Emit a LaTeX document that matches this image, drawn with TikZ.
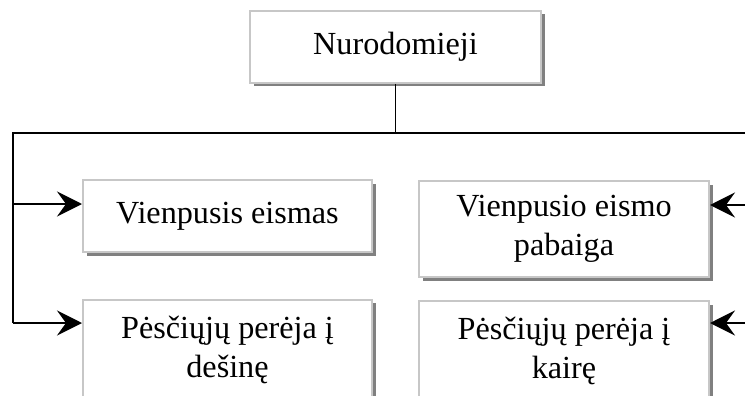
\documentclass[tikz,border=0pt]{standalone}
\usepackage{fontspec}
\setmainfont{Liberation Serif}
\usetikzlibrary{arrows.meta,shadows}
\begin{document}
\begin{tikzpicture}[x=1pt,y=-1pt,
  box/.style={draw=black!22, line width=2pt, fill=white,
    drop shadow={shadow xshift=3.5pt, shadow yshift=-3.5pt, fill=black!50, opacity=1},
    align=center, inner sep=0pt, font=\fontsize{32.2}{39}\selectfont},
  link/.style={line width=1.8pt, draw=black},
  arr/.style={link, -{Stealth[length=25pt,width=25pt,inset=9pt]}}]
\useasboundingbox (0,0) rectangle (745,396);
\clip (0,0) rectangle (745,396);

% boxes
\node[box, minimum width=291pt, minimum height=72pt] (root) at (395.5,47) {Nurodomieji};
\node[box, minimum width=289pt, minimum height=72pt] (oneway) at (227.5,216) {Vienpusis eismas};
\node[box, minimum width=290pt, minimum height=96pt] (onewayend) at (564,229) {Vienpusio eismo\\pabaiga};
\node[box, minimum width=289pt, minimum height=101pt] (crossright) at (227.5,350) {Pėsčiųjų perėja į\\dešinę};
\node[box, minimum width=290pt, minimum height=100pt] (crossleft) at (564,351) {Pėsčiųjų perėja į\\kairę};

% trunk lines
\coordinate (tl) at (12.7,132.7);
\coordinate (tr) at (752,132.7);
\coordinate (a1) at ([yshift=12pt]oneway.west);
\coordinate (a2) at ([yshift=27pt]crossright.west);
\coordinate (b1) at ([yshift=24pt]onewayend.east);
\coordinate (b2) at ([yshift=28pt]crossleft.east);

\draw[link] (root.south) -- (root.south |- tl);
\draw[link, line join=miter] (tl |- a2) -- (tl) -- (tr) -- (tr |- b2);

% arrows into the boxes
\draw[arr] (tl |- a1) -- (a1);
\draw[arr] (tl |- a2) -- (a2);
\draw[arr] (tr |- b1) -- (b1);
\draw[arr] (tr |- b2) -- (b2);
\end{tikzpicture}
\end{document}
